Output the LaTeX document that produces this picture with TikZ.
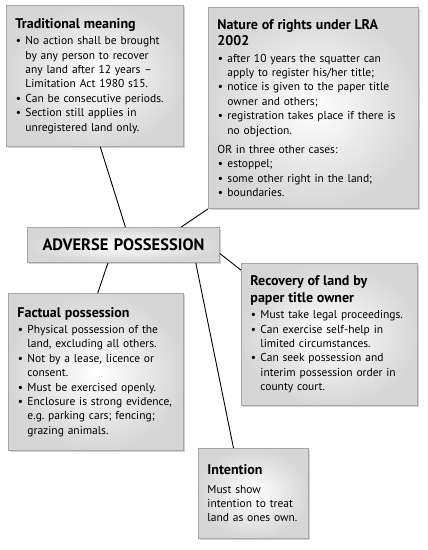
\documentclass[tikz,border=0pt]{standalone}
\usepackage{fontspec}
\setmainfont{PT Sans}
\usepackage{enumitem}
\usepackage{tikz}
\usetikzlibrary{calc,shadows}
\setlist[itemize]{label={\textbullet}, leftmargin=10pt, labelsep=4.5pt, rightmargin=-3pt, itemsep=0pt, parsep=0pt, topsep=2pt, partopsep=0pt}
\newcommand\hd[1]{{\fontsize{14}{16.5}\selectfont\bfseries #1\par}}
\tikzset{
  box/.style ={draw=gray!70, line width=0.9pt, inner sep=9pt, anchor=north west, align=left,
               inner color=white, outer color=gray!32,
               drop shadow={shadow xshift=1.5pt, shadow yshift=-2pt, opacity=0.35},
               font=\fontsize{11.5}{14.4}\selectfont},
  link/.style={line width=0.9pt}
}

\begin{document}
\begin{tikzpicture}[x=1pt,y=1pt]
\useasboundingbox (0,0) rectangle (428,-550);
\node[box, text width=159pt, minimum height=141pt] (trad) at (6,-5) {\hd{Traditional meaning}
\begin{itemize}
\item No action shall be brought\\ by any person to recover\\ any land after 12 years --\\ Limitation Act 1980 s15.
\item Can be consecutive periods.
\item Section still applies in\\ unregistered land only.
\end{itemize}};
\node[box, text width=192pt, minimum height=201pt] (lra) at (208,-7) {\hd{Nature of rights under LRA\\ 2002}
\begin{itemize}
\item after 10 years the squatter can\\ apply to register his/her title;
\item notice is given to the paper title\\ owner and others;
\item registration takes place if there is\\ no objection.
\end{itemize}
\vspace{3pt}OR in three other cases:
\begin{itemize}[topsep=0pt]
\item estoppel;
\item some other right in the land;
\item boundaries.
\end{itemize}};
\node[box, align=center, text width=174pt, minimum height=35pt, font=\fontsize{16.5}{18}\selectfont\bfseries] (adv) at (27,-227) {ADVERSE POSSESSION};
\node[box, text width=158pt, minimum height=142pt] (rec) at (241,-263) {\hd{Recovery of land by\\ paper title owner}
\begin{itemize}
\item Must take legal proceedings.
\item Can exercise self-help in\\ limited circumstances.
\item Can seek possession and\\ interim possession order in\\ county court.
\end{itemize}};
\node[box, text width=157pt, minimum height=157pt] (fact) at (8,-293) {\hd{Factual possession}
\begin{itemize}
\item Physical possession of the\\ land, excluding all others.
\item Not by a lease, licence or\\ consent.
\item Must be exercised openly.
\item Enclosure is strong evidence,\\ e.g.\ parking cars; fencing;\\ grazing animals.
\end{itemize}};
\node[box, text width=92pt, minimum height=90pt] (intent) at (198,-448) {\hd{Intention}\vspace{4pt}
Must show\\ intention to treat\\ land as ones own.};

\draw[link] ($(trad.south west)!0.53!(trad.south east)$) -- ($(adv.north west)!0.51!(adv.north east)$);
\draw[link] (lra.south west) -- ($(adv.north west)!0.8!(adv.north east)$);
\draw[link] ($(adv.north east)!0.74!(adv.south east)$) -- ($(rec.north west)!0.05!(rec.south west)$);
\draw[link] ($(adv.south west)!0.42!(adv.south east)$) -- ($(fact.north west)!0.51!(fact.north east)$);
\draw[link] ($(adv.south west)!0.875!(adv.south east)$) -- ($(intent.north west)!0.32!(intent.north east)$);
\end{tikzpicture}
\end{document}
